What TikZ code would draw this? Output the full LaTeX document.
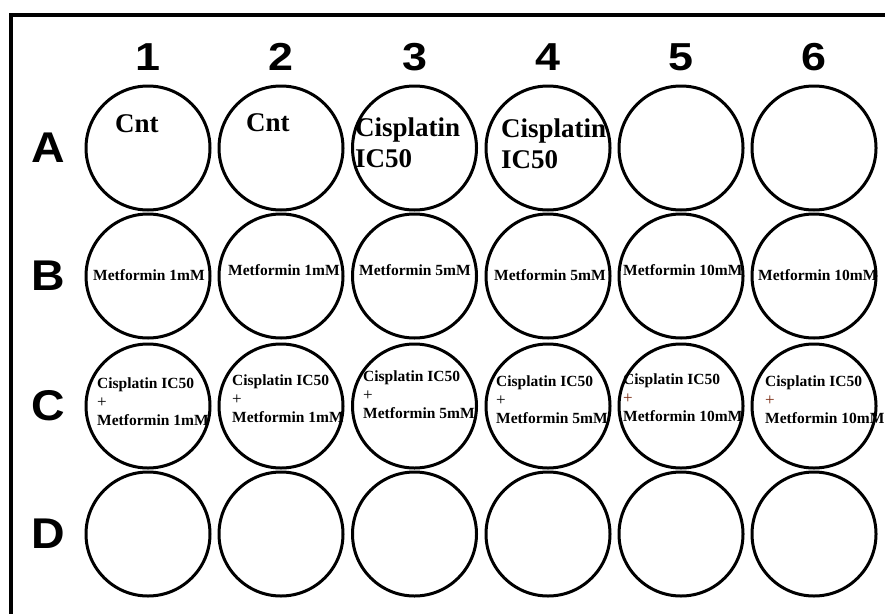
\documentclass[tikz,border=0pt]{standalone}
\usepackage{fontspec}
\setmainfont{Liberation Serif}
\newfontfamily\rowfont[FakeStretch=1.08]{Liberation Sans}
\newfontfamily\colfont[FakeStretch=1.15]{Liberation Sans}
\usepackage{tikz}
\usetikzlibrary{positioning}
\usepackage{xcolor}
\definecolor{plusbrown}{RGB}{120,40,15}

\tikzset{
  well/.style={circle, draw, line width=3pt, minimum size=124pt, inner sep=0pt},
  collabel/.style={font=\colfont\bfseries\fontsize{39}{40}\selectfont, inner sep=0pt},
  rowlabel/.style={font=\rowfont\bfseries\fontsize{43}{44}\selectfont, inner sep=0pt},
  bigtext/.style={anchor=west, align=left, inner sep=0pt,
    font=\bfseries\fontsize{27}{31}\selectfont},
  smalltext/.style={anchor=west, align=left, inner sep=0pt,
    font=\bfseries\fontsize{15.5}{18.5}\selectfont}
}

\begin{document}
\begin{tikzpicture}[x=1pt, y=-1pt]
  \useasboundingbox (0,0) rectangle (885,613);

  % frame
  \draw[line width=3.5pt] (900,15) -- (11,15) -- (11,630);

  % column numbers
  \foreach \c/\x in {1/148, 2/281, 3/414.5, 4/548, 5/681, 6/814}
    \node[collabel] (col\c) at (\x,57) {\c};

  % row letters and wells
  \foreach \r/\y in {A/148, B/276, C/406, D/534} {
    \node[rowlabel] (row\r) at (48,\y) {\r};
    \foreach \c/\x in {1/148, 2/281, 3/414.5, 4/548, 5/681, 6/814}
      \node[well] (\r\c) at (\x,\y) {};
  }

  % row A
  \node[bigtext] (tA1) at (115,124) {Cnt};
  \node[bigtext] (tA2) at (246,123) {Cnt};
  \node[bigtext] (tA3) at (355,142.5) {Cisplatin\\IC50};
  \node[bigtext] (tA4) at (501,144) {Cisplatin\\IC50};

  % row B
  \foreach \c/\x/\y/\d in {1/93/275/1, 2/228/270/1, 3/359/270/5, 4/494/275/5, 5/623/270/10, 6/758/275/10}
    \node[smalltext] (tB\c) at (\x,\y) {Metformin \d mM};

  % row C
  \foreach \c/\x/\y/\d/\pc in {1/97/402/1/black, 2/232/399/1/black, 3/363/395/5/black,
      4/496/400/5/black, 5/623/398/10/plusbrown, 6/765/400/10/plusbrown}
    \node[smalltext] (tC\c) at (\x,\y)
      {Cisplatin IC50\\{\mdseries\fontsize{17}{18.5}\selectfont\color{\pc}+}\\Metformin \d mM};
\end{tikzpicture}
\end{document}
